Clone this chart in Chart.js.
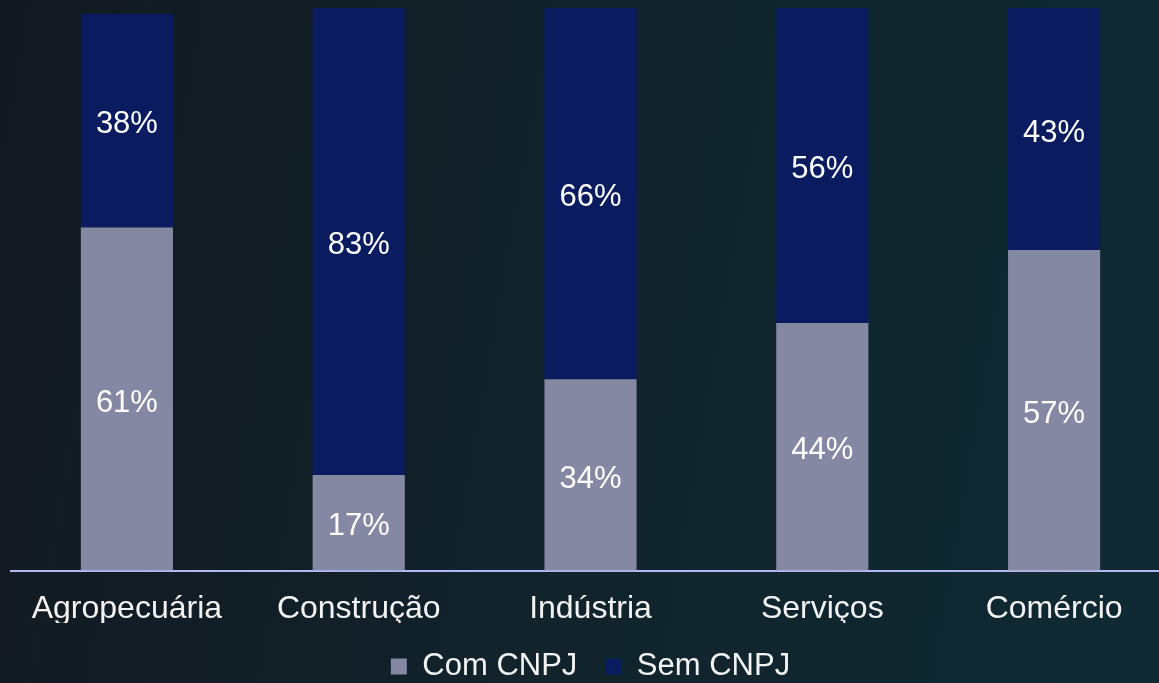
<!DOCTYPE html>
<html>
<head>
<meta charset="utf-8">
<script src="https://cdn.jsdelivr.net/npm/chart.js@4"></script>
<style>
  html, body { margin: 0; padding: 0; overflow: hidden; }
  body {
    width: 1159px; height: 683px; position: relative;
    background: linear-gradient(100deg, #131820 0%, #11232b 50%, #0f2a33 100%);
  }
  #wrap { position: absolute; left: 0; top: 0; width: 1170px; height: 692px; }
</style>
</head>
<body>
<div id="wrap"><canvas id="chart"></canvas></div>
<script>
const categories = ["Agropecuária", "Construção", "Indústria", "Serviços", "Comércio"];
const comCnpj = [61, 17, 34, 44, 57];
const semCnpj = [38, 83, 66, 56, 43];
const seriesNames = ["Com CNPJ", "Sem CNPJ"];

const FONT = "'Liberation Sans', Arial, sans-serif";

// rótulos de valor no meio de cada segmento
const valueLabels = {
  id: "valueLabels",
  afterDatasetsDraw(chart) {
    const c = chart.ctx;
    c.save();
    c.font = "31px " + FONT;
    c.fillStyle = "#ffffff";
    c.textAlign = "center";
    c.textBaseline = "middle";
    chart.data.datasets.forEach((ds, i) => {
      chart.getDatasetMeta(i).data.forEach((bar, j) => {
        const mid = (bar.y + bar.base) / 2 + 4;
        c.fillText(ds.data[j] + "%", bar.x, mid);
      });
    });
    c.restore();
  }
};

const ctx = document.getElementById("chart");
new Chart(ctx, {
  type: "bar",
  data: {
    labels: categories,
    datasets: [
      { label: seriesNames[0], data: comCnpj, backgroundColor: "#8588a3" },
      { label: seriesNames[1], data: semCnpj, backgroundColor: "#0a1c5f" },
    ],
  },
  options: {
    responsive: true,
    maintainAspectRatio: false,
    animation: false,
    layout: { padding: { left: 11, right: 0, top: 8, bottom: 0 } },
    barPercentage: 0.5,
    categoryPercentage: 0.795,
    scales: {
      x: {
        stacked: true,
        grid: { display: false, drawTicks: false },
        border: { color: "#b4b8f0", width: 2 },
        ticks: {
          color: "#f2f2f2",
          padding: 19,
          font: { family: FONT, size: 32 },
        },
        afterFit(scale) { scale.height -= 24; }, // aproxima a legenda dos rótulos
      },
      y: { stacked: true, display: false, min: 0, max: 100 },
    },
    plugins: {
      legend: {
        position: "bottom",
        labels: {
          color: "#f2f2f2",
          boxWidth: 16,
          boxHeight: 16,
          padding: 28,
          font: { family: FONT, size: 31 },
        },
      },
      tooltip: { enabled: false },
    },
  },
  plugins: [valueLabels],
});
</script>
</body>
</html>
